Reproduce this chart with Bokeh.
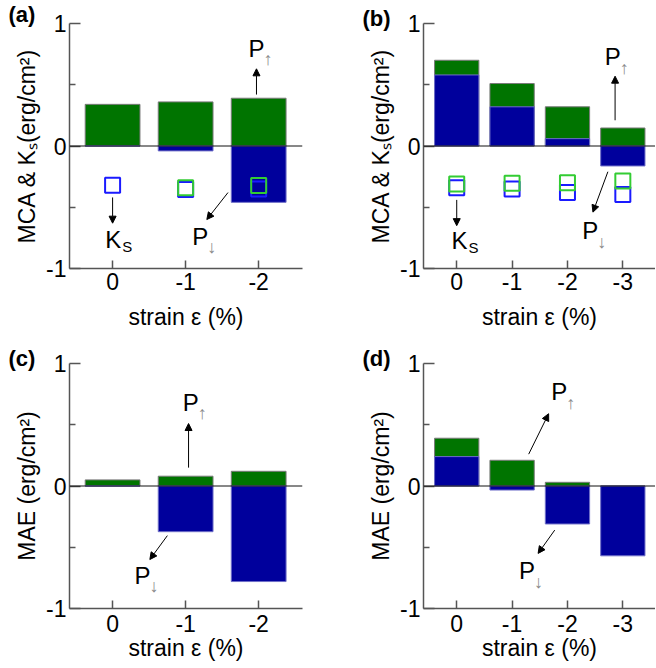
import math
from bokeh.plotting import figure
from bokeh.models import Range1d, FixedTicker, Span, Arrow, NormalHead, Label
from bokeh.layouts import column, row
from bokeh.embed import file_html
from bokeh.resources import INLINE

FONT = "Liberation Sans"
GREEN = "#007400"
NAVY = "#00009c"
SQ_BLUE = "#1a1aff"
SQ_GREEN = "#33cc33"
AXIS_GRAY = "#555555"
NAN = float("nan")

# ---------------- data ----------------
strain_3 = [0, -1, -2]
strain_4 = [0, -1, -2, -3]

# (a) MCA, 3 strains
a_mca_up = [0.34, 0.36, 0.39]      # P-up (green)
a_mca_dn = [0.0, -0.04, -0.46]     # P-down (blue)
a_ks_dn = [-0.32, -0.355, -0.35]   # Ks, blue squares
a_ks_up = [NAN, -0.34, -0.322]     # Ks, green squares

# (b) MCA, 4 strains
b_mca_up = [0.70, 0.51, 0.32, 0.147]
b_mca_dn = [0.58, 0.32, 0.06, -0.163]
b_ks_dn = [-0.34, -0.35, -0.38, -0.395]
b_ks_up = [-0.31, -0.305, -0.30, -0.285]

# (c) MAE, 3 strains
c_mae_up = [0.05, 0.08, 0.12]
c_mae_dn = [0.0, -0.373, -0.78]

# (d) MAE, 4 strains
d_mae_up = [0.39, 0.21, 0.03, 0.0]
d_mae_dn = [0.24, -0.033, -0.31, -0.57]

y_ticks = [-1, 0, 1]
y_minor = [-0.5, 0.5]

# annotation arrows: (x_start, y_start, x_end, y_end)
a_arrows = [(0.0, -0.42, 0.0, -0.63), (-1.97, 0.42, -1.97, 0.63), (-1.58, -0.38, -1.29, -0.60)]
b_arrows = [(0.0, -0.44, 0.0, -0.65), (-2.86, 0.21, -2.86, 0.57), (-2.73, -0.21, -2.46, -0.54)]
c_arrows = [(-1.04, 0.15, -1.04, 0.51), (-0.75, -0.405, -0.51, -0.60)]
d_arrows = [(-1.30, 0.26, -1.66, 0.59), (-1.77, -0.36, -1.47, -0.55)]

# annotation texts: (x, y, main, sub)
a_texts = [(-0.01, -0.76, "K", "S"), (-1.97, 0.80, "P", "↑"), (-1.2, -0.735, "P", "↓")]
b_texts = [(-0.05, -0.77, "K", "S"), (-2.82, 0.73, "P", "↑"), (-2.41, -0.69, "P", "↓")]
c_texts = [(-1.07, 0.684, "P", "↑"), (-0.41, -0.73, "P", "↓")]
d_texts = [(-1.85, 0.77, "P", "↑"), (-1.27, -0.69, "P", "↓")]


def make_panel(tag, strain, up, dn, ks_dn, ks_up, ylabel, xr, bar_w,
               width, height, bl, br, bt, bb, arrows, texts,
               xlab_standoff, xtick_standoff, tag_standoff):
    p = figure(width=width, height=height, output_backend="svg",
               toolbar_location=None, x_range=Range1d(*xr),
               y_range=Range1d(-1, 1),
               min_border_left=bl, min_border_right=br,
               min_border_top=bt, min_border_bottom=bb)
    p.outline_line_color = None
    p.xgrid.visible = False
    p.ygrid.visible = False
    p.background_fill_color = "white"
    p.border_fill_color = "white"

    # panel tag as title, pushed left into the border
    p.title.text = tag
    p.title.text_font = FONT
    p.title.text_font_size = "22px"
    p.title.text_font_style = "bold"
    p.title.align = "left"
    p.title.offset = 8 - bl
    p.title.standoff = tag_standoff
    p.title.text_color = "black"

    p.vbar(x=strain, top=up, bottom=0, width=bar_w, fill_color=GREEN,
           line_color="#7a7a7a", line_width=1)
    p.vbar(x=strain, top=dn, bottom=0, width=bar_w, fill_color=NAVY,
           line_color="#6f6fc8", line_width=1)

    if ks_dn is not None:
        p.scatter(x=strain, y=ks_dn, marker="square", size=15,
                  fill_color=None, line_color=SQ_BLUE, line_width=2)
    if ks_up is not None:
        p.scatter(x=strain, y=ks_up, marker="square", size=15,
                  fill_color=None, line_color=SQ_GREEN, line_width=2)

    p.add_layout(Span(location=0, dimension="width", line_color="#111111",
                      line_width=1))

    for (x0, y0, x1, y1) in arrows:
        p.add_layout(Arrow(end=NormalHead(size=7, fill_color="black",
                                          line_color="black", line_width=1),
                           x_start=x0, y_start=y0, x_end=x1, y_end=y1,
                           line_color="black", line_width=1))

    for (x, y, main, sub) in texts:
        p.add_layout(Label(x=x, y=y, text=main, text_font=FONT,
                           text_font_size="24px", text_align="center",
                           text_baseline="middle", text_color="black"))
        if sub in ("↑", "↓"):
            p.add_layout(Label(x=x, y=y, text=sub, text_font=FONT,
                               text_font_size="18px", text_align="left",
                               text_baseline="middle", text_color="#8a8a8a",
                               x_offset=7, y_offset=-11))
        else:
            p.add_layout(Label(x=x, y=y, text=sub, text_font=FONT,
                               text_font_size="15px", text_align="left",
                               text_baseline="middle", text_color="black",
                               x_offset=9, y_offset=-7))

    # axes
    for ax in (p.xaxis[0], p.yaxis[0]):
        ax.axis_line_color = AXIS_GRAY
        ax.axis_line_width = 1.5
        ax.major_tick_line_color = AXIS_GRAY
        ax.major_tick_line_width = 1.5
        ax.minor_tick_line_color = AXIS_GRAY
        ax.minor_tick_line_width = 1.5
        ax.major_tick_out = 0
        ax.minor_tick_out = 0
        ax.major_label_text_font = FONT
        ax.major_label_text_font_size = "23px"
        ax.major_label_text_color = "black"
        ax.axis_label_text_font = FONT
        ax.axis_label_text_font_size = "23px"
        ax.axis_label_text_font_style = "normal"
        ax.axis_label_text_color = "black"

    p.yaxis.ticker = FixedTicker(ticks=y_ticks, minor_ticks=y_minor)
    p.yaxis.major_label_overrides = {t: str(t) for t in y_ticks}
    p.yaxis.major_tick_in = 11
    p.yaxis.minor_tick_in = 6
    p.yaxis.major_label_standoff = 3
    p.yaxis.axis_label_standoff = 3
    p.yaxis.axis_label = ylabel

    p.xaxis.ticker = FixedTicker(ticks=strain)
    p.xaxis.major_label_overrides = {t: str(t) for t in strain}
    p.xaxis.major_tick_in = 8
    p.xaxis.minor_tick_line_color = None
    p.xaxis.major_label_standoff = xtick_standoff
    p.xaxis.axis_label_standoff = xlab_standoff
    p.xaxis.axis_label = "strain ε (%)"
    return p


pa = make_panel("(a)", strain_3, a_mca_up, a_mca_dn, a_ks_dn, a_ks_up,
                "MCA & Kₛ(erg/cm²)", (0.59, -2.6), 0.75,
                354, 343, 69, 52, 23, 75, a_arrows, a_texts, 11, 4, -6)
pb = make_panel("(b)", strain_4, b_mca_up, b_mca_dn, b_ks_dn, b_ks_up,
                "MCA & Kₛ(erg/cm²)", (0.6, -3.59), 0.8,
                301, 343, 69, 0, 23, 75, b_arrows, b_texts, 11, 4, -14)
pc = make_panel("(c)", strain_3, c_mae_up, c_mae_dn, None, None,
                "MAE (erg/cm²)", (0.59, -2.6), 0.75,
                354, 323, 69, 52, 20, 58, c_arrows, c_texts, 0, 6, -14)
pd_ = make_panel("(d)", strain_4, d_mae_up, d_mae_dn, None, None,
                 "MAE (erg/cm²)", (0.6, -3.59), 0.8,
                 301, 323, 69, 0, 20, 58, d_arrows, d_texts, 0, 6, -14)

layout = column(row(pa, pb), row(pc, pd_))
open("out.html", "w").write(file_html(layout, INLINE))
